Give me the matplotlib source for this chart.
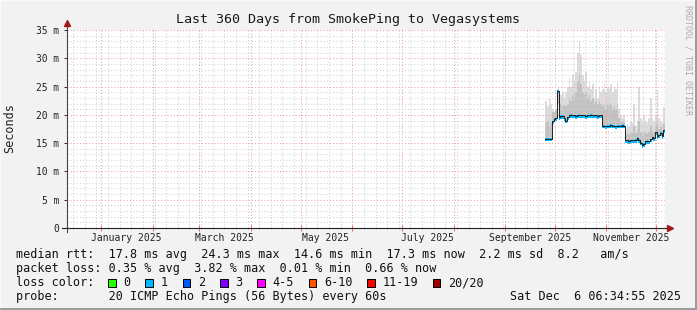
import numpy as np
import pandas as pd
import matplotlib
matplotlib.use("Agg")
import matplotlib.pyplot as plt
import matplotlib.dates as mdates
from matplotlib import transforms
from matplotlib.patches import Rectangle

plt.rcParams["font.family"] = ["DejaVu Sans Mono"]

# ---- data (ms), one value per day from 2025-09-25 06:34:55 ----
median = [15.8, 15.8, 15.8, 15.8, 18.9, 19.3, 19.4, 24.3, 19.6, 19.8, 19.8, 19.5,
          19.0, 19.6, 19.9, 20.0, 19.9, 19.9, 19.8, 19.9, 20.0, 19.9, 19.9, 19.9,
          19.8, 19.9, 19.9, 20.0, 19.9, 19.9, 19.9, 19.8, 19.9, 19.9, 18.1, 18.1,
          18.0, 18.1, 18.1, 18.2, 18.1, 18.1, 18.0, 18.1, 18.1, 18.1, 18.2, 18.1,
          15.5, 15.5, 15.4, 15.5, 15.5, 15.5, 15.6, 15.9, 15.6, 15.1, 14.6, 14.9,
          15.3, 15.4, 15.3, 15.7, 16.0, 15.9, 16.9, 16.3, 16.4, 16.8, 16.2, 17.3]
smoke_hi = [22.5, 21.5, 23.0, 22.0, 21.0, 20.5, 21.0, 24.6, 22.0, 23.5, 24.0, 23.0,
            24.0, 25.0, 26.5, 25.0, 27.0, 26.0, 27.5, 31.0, 33.0, 30.5, 27.0, 26.0,
            27.5, 25.0, 26.0, 24.5, 25.5, 23.0, 24.5, 23.0, 25.0, 24.0, 24.5, 25.5,
            24.0, 25.0, 24.5, 25.5, 24.0, 25.0, 24.5, 25.8, 21.0, 20.0, 19.5, 20.0,
            17.5, 18.3, 18.0, 18.8, 18.5, 22.0, 18.0, 19.0, 25.0, 19.5, 18.5, 20.0,
            19.0, 18.5, 19.5, 23.0, 19.5, 19.0, 20.0, 24.4, 19.5, 19.0, 18.5, 21.4]
smoke_mid = [18.5, 19.0, 18.0, 18.5, 20.5, 20.5, 21.0, 22.0, 21.5, 22.0, 21.5, 22.0,
             21.5, 22.0, 23.0, 22.5, 23.5, 23.0, 24.0, 26.0, 27.0, 25.5, 24.0, 23.5,
             24.0, 23.0, 23.5, 22.5, 23.0, 22.0, 22.5, 22.0, 22.5, 22.0, 21.5, 22.0,
             21.0, 22.0, 21.5, 22.0, 21.0, 21.5, 21.0, 22.0, 19.5, 19.0, 18.8, 19.0,
             16.5, 16.8, 16.6, 17.0, 16.8, 18.0, 16.8, 17.2, 19.0, 17.0, 16.2, 17.0,
             16.8, 16.6, 17.0, 18.0, 17.2, 17.0, 18.0, 18.5, 17.5, 17.8, 17.2, 18.3]

month_labels = ["January 2025", "March 2025", "May 2025", "July 2025",
                "September 2025", "November 2025"]
ytick_labels = ["0", "5 m", "10 m", "15 m", "20 m", "25 m", "30 m", "35 m"]

loss_labels = ["0", "1", "2", "3", "4-5", "6-10", "11-19", "20/20"]
loss_colors = ["#26ff00", "#00b8ff", "#0059ff", "#7e00ff", "#ff00ff",
               "#ff5500", "#ff0000", "#a10000"]

stats_rtt = "median rtt:  17.8 ms avg  24.3 ms max  14.6 ms min  17.3 ms now  2.2 ms sd  8.2   am/s"
stats_loss = "packet loss: 0.35 % avg  3.82 % max  0.01 % min  0.66 % now"
probe_text = "probe:       20 ICMP Echo Pings (56 Bytes) every 60s"
stamp = "Sat Dec  6 06:34:55 2025"

t_start = pd.Timestamp("2024-12-11 06:34:55")
t_end = pd.Timestamp("2025-12-06 06:34:55")
times = pd.date_range("2025-09-25 06:34:55", periods=len(median) + 1, freq="D")

W, H = 697, 310
fig = plt.figure(figsize=(W / 100, H / 100), dpi=100, facecolor="#f2f2f2")
ax = fig.add_axes([67 / W, 82 / H, 598 / W, 198 / H])
ax.set_facecolor("white")


def steps(v):
    v = np.asarray(v, dtype=float)
    return np.append(v, v[-1])


med = steps(median)
ax.fill_between(times, med, steps(smoke_hi), step="post", color="#dcdcdc", lw=0, zorder=1)
ax.fill_between(times, med, steps(smoke_mid), step="post", color="#c2c2c2", lw=0, zorder=1)
ax.fill_between(times, med - 0.5, med + 0.1, step="post", color="#00b8ff", lw=0, zorder=3)
ax.step(times, med, where="post", color="#202020", lw=0.7, zorder=3)

ax.set_xlim(t_start, t_end)
ax.set_ylim(0, 35)

# grid
month_starts = pd.date_range("2025-01-01", "2025-12-01", freq="MS")
weeks = pd.date_range("2024-12-15", "2025-12-06", freq="7D")
ax.set_xticks(mdates.date2num(month_starts))
ax.set_xticks(mdates.date2num(weeks), minor=True)
ax.set_yticks(np.arange(0, 36, 5))
ax.set_yticks(np.arange(0, 36, 1), minor=True)
ax.set_yticklabels(ytick_labels)
ax.set_axisbelow(False)
ax.grid(True, which="major", color="#f2a0a0", ls=(0, (1, 2)), lw=0.75)
ax.grid(True, which="minor", color="#d2d2d2", ls=(0, (1, 2)), lw=0.75)

for s in ax.spines.values():
    s.set_visible(False)
ax.tick_params(axis="x", which="major", direction="inout", length=4, width=0.7,
               color="#e07070", labelbottom=False)
ax.tick_params(axis="x", which="minor", direction="inout", length=2, width=0.7,
               color="#aaaaaa")
ax.tick_params(axis="y", which="major", direction="out", length=2.5, width=0.7,
               color="#333333", labelsize=6.9, pad=2.9, labelcolor="#222222")
ax.tick_params(axis="y", which="minor", length=0)

# axis lines with arrows
ax.plot([-0.0084, 1.006], [0, 0], transform=ax.transAxes, clip_on=False,
        color="#222222", lw=0.8, zorder=4)
ax.plot([0, 0], [-0.02, 1.025], transform=ax.transAxes, clip_on=False,
        color="#444444", lw=0.8, zorder=4)
ax.plot([1.009], [0], marker=">", ms=4.5, color="#a01818", transform=ax.transAxes,
        clip_on=False, zorder=5)
ax.plot([0], [1.035], marker="^", ms=4.5, color="#a01818", transform=ax.transAxes,
        clip_on=False, zorder=5)

# month labels centred half a month after the month start
trans = transforms.blended_transform_factory(ax.transData, fig.transFigure)
for lab in month_labels:
    pos = pd.to_datetime(lab, format="%B %Y") + pd.Timedelta(days=15)
    fig.text(mdates.date2num(pos), 1 - 237.7 / H, lab, transform=trans,
             ha="center", va="center", fontsize=7.05, color="#222222")


def fx(x):
    return x / W


def fy(y):
    return 1 - y / H


fig.text(fx(348), fy(19), "Last 360 Days from SmokePing to Vegasystems",
         ha="center", va="center", fontsize=9.6, color="#1a1a1a")
fig.text(fx(10), fy(128), "Seconds", rotation=90, ha="center", va="center",
         fontsize=8.45, color="#222222")
fig.text(fx(688), fy(60), "RRDTOOL / TOBI OETIKER", rotation=270, ha="center",
         va="center", fontsize=6.0, color="#ababab")

# legend
fs = 8.45
cw = 7.05
fig.text(fx(16), fy(254.5), stats_rtt, ha="left", va="center", fontsize=fs, color="#111111")
fig.text(fx(16), fy(268.5), stats_loss, ha="left", va="center", fontsize=fs, color="#111111")
fig.text(fx(16), fy(282.5), "loss color:", ha="left", va="center", fontsize=fs, color="#111111")
x = 108.0
for lab, col in zip(loss_labels, loss_colors):
    fig.add_artist(Rectangle((fx(x), fy(286.5)), 7.5 / W, 7.5 / H, transform=fig.transFigure,
                             facecolor=col, edgecolor="black", lw=0.7))
    fig.text(fx(x + 15), fy(282.5), lab, ha="left", va="center", fontsize=fs, color="#111111")
    x = x + 15 + len(lab) * cw + 15.3
fig.text(fx(16), fy(296.5), probe_text, ha="left", va="center", fontsize=fs, color="#111111")
fig.text(fx(681), fy(296.5), stamp, ha="right", va="center", fontsize=fs, color="#111111")

# canvas shade border
fig.add_artist(Rectangle((0, 1 - 1 / H), 1, 1 / H, transform=fig.transFigure,
                         facecolor="#fafafa", lw=0))
fig.add_artist(Rectangle((0, 0), 1 / W, 1, transform=fig.transFigure,
                         facecolor="#fafafa", lw=0))
fig.add_artist(Rectangle((0, 0), 1, 2 / H, transform=fig.transFigure,
                         facecolor="#9c9c9c", lw=0))
fig.add_artist(Rectangle((1 - 2 / W, 0), 2 / W, 1, transform=fig.transFigure,
                         facecolor="#9c9c9c", lw=0))

fig.savefig("out.png", dpi=100, facecolor=fig.get_facecolor())
